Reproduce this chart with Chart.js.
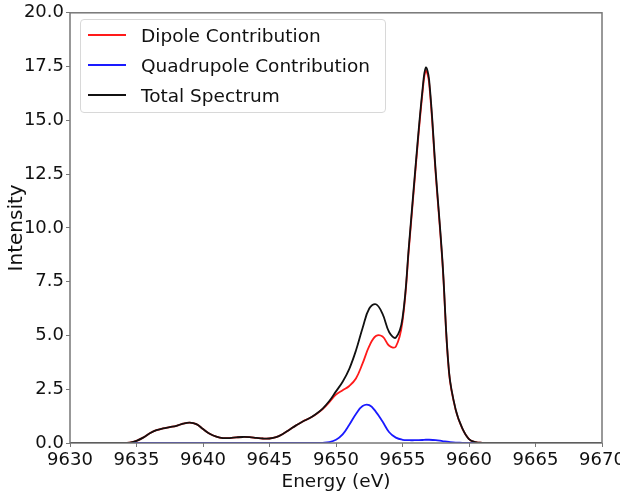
<!DOCTYPE html>
<html>
<head>
<meta charset="utf-8">
<script src="https://cdn.jsdelivr.net/npm/chart.js@4.4.0/dist/chart.umd.min.js"></script>
<style>
  html, body { margin: 0; padding: 0; background: #fff; }
  #wrap { position: relative; width: 620px; height: 495px; overflow: hidden; font-family: "DejaVu Sans", sans-serif; }
  #legend {
    position: absolute; left: 80px; top: 19px; width: 304px; height: 92px;
    border: 1px solid #d8d8d8; border-radius: 4px; background: rgba(255,255,255,0.85);
  }
  .row { position: absolute; left: 0; height: 30px; display: flex; align-items: center; }
  .swatch { width: 38px; height: 2px; margin-left: 7px; margin-right: 15px; }
  .label { font-size: 18.5px; color: #111; white-space: nowrap; }
</style>
</head>
<body>
<div id="wrap">
  <canvas id="spectrum" width="620" height="495"></canvas>
  <div id="legend"></div>
</div>
<script>
const energy = [9630, 9634, 9634.5, 9635, 9635.5, 9636, 9636.5, 9637, 9637.5, 9638, 9638.5, 9639, 9639.5,
  9640, 9640.5, 9641, 9641.5, 9642, 9642.5, 9643, 9643.5, 9644, 9644.5, 9645, 9645.5, 9646, 9646.5,
  9647, 9647.5, 9648, 9648.5, 9649, 9649.5, 9650, 9650.5, 9651, 9651.5, 9652, 9652.5, 9653, 9653.5,
  9654, 9654.5, 9655, 9655.5, 9656, 9656.5, 9656.75, 9657, 9657.5, 9658, 9658.5, 9659, 9659.5,
  9660, 9660.5, 9661, 9662, 9670];

const total = [0, 0, 0.02, 0.1, 0.25, 0.45, 0.6, 0.68, 0.74, 0.8, 0.9, 0.95, 0.88,
  0.65, 0.43, 0.3, 0.23, 0.23, 0.26, 0.28, 0.27, 0.24, 0.21, 0.21, 0.27, 0.42, 0.62,
  0.82, 1.0, 1.15, 1.35, 1.6, 1.95, 2.4, 2.85, 3.45, 4.3, 5.35, 6.25, 6.45, 6.0,
  5.15, 4.9, 5.8, 9.3, 13.0, 16.4, 17.45, 16.9, 12.6, 8.5, 3.3, 1.55, 0.68,
  0.18, 0.04, 0.01, 0, 0];

const dipole = [0, 0, 0.02, 0.1, 0.25, 0.45, 0.6, 0.68, 0.74, 0.8, 0.9, 0.95, 0.88,
  0.65, 0.43, 0.3, 0.23, 0.23, 0.26, 0.28, 0.27, 0.24, 0.21, 0.21, 0.27, 0.42, 0.62,
  0.82, 1.0, 1.15, 1.34, 1.58, 1.9, 2.25, 2.45, 2.65, 3.0, 3.7, 4.5, 4.97, 4.95,
  4.52, 4.48, 5.65, 9.17, 12.87, 16.26, 17.3, 16.75, 12.47, 8.41, 3.25, 1.53, 0.67,
  0.18, 0.04, 0.01, 0, 0];

const quadrupole = [0, 0, 0, 0, 0, 0, 0, 0, 0, 0, 0, 0, 0,
  0, 0, 0, 0, 0, 0, 0, 0, 0, 0, 0, 0, 0, 0,
  0, 0, 0, 0.005, 0.01, 0.04, 0.15, 0.4, 0.85, 1.35, 1.72, 1.76, 1.45, 1.0,
  0.5, 0.25, 0.15, 0.13, 0.13, 0.14, 0.15, 0.15, 0.13, 0.09, 0.05, 0.02, 0.01,
  0, 0, 0, 0, 0];

const xTicks = [9630, 9635, 9640, 9645, 9650, 9655, 9660, 9665, 9670];
const yTicks = [0, 2.5, 5, 7.5, 10, 12.5, 15, 17.5, 20];

const series = [
  { label: 'Dipole Contribution', values: dipole, color: '#ff1a1a', order: 2 },
  { label: 'Quadrupole Contribution', values: quadrupole, color: '#1a1aff', order: 1 },
  { label: 'Total Spectrum', values: total, color: '#111111', order: 0 }
];

// frame around the plot area, like matplotlib spines
const frame = {
  id: 'frame',
  afterDatasetsDraw(chart) {
    const { ctx, chartArea: a } = chart;
    ctx.save();
    ctx.strokeStyle = '#777';
    ctx.lineWidth = 1.5;
    ctx.strokeRect(a.left, a.top, a.width, a.height);
    ctx.restore();
  }
};

const tickFont = { family: 'DejaVu Sans', size: 18 };

new Chart(document.getElementById('spectrum').getContext('2d'), {
  type: 'line',
  data: {
    datasets: series.map(s => ({
      label: s.label,
      data: energy.map((e, i) => ({ x: e, y: s.values[i] })),
      borderColor: s.color,
      borderWidth: 1.8,
      pointRadius: 0,
      tension: 0.4,
      fill: false,
      order: s.order
    }))
  },
  options: {
    responsive: false,
    animation: false,
    layout: { padding: { top: 10, right: 18, left: 0, bottom: 0 } },
    plugins: { legend: { display: false }, tooltip: { enabled: false } },
    scales: {
      x: {
        type: 'linear',
        min: 9630,
        max: 9670,
        afterBuildTicks: scale => { scale.ticks = xTicks.map(v => ({ value: v })); },
        afterFit: scale => {
          scale.height = 52;
          scale.paddingLeft = 0;
          scale.paddingRight = 0;
        },
        border: { display: false },
        grid: { drawOnChartArea: false, drawTicks: true, tickLength: 4, color: '#777' },
        ticks: { font: tickFont, color: '#111', padding: 3, maxRotation: 0, autoSkip: false, callback: v => String(v) },
        title: { display: true, text: 'Energy (eV)', font: { family: 'DejaVu Sans', size: 18.5 }, color: '#111', padding: { top: 0, bottom: 2 } }
      },
      y: {
        min: 0,
        max: 20,
        afterBuildTicks: scale => { scale.ticks = yTicks.map(v => ({ value: v })); },
        afterFit: scale => { scale.width = 70; },
        border: { display: false },
        grid: { drawOnChartArea: false, drawTicks: true, tickLength: 4, color: '#777' },
        ticks: { font: tickFont, color: '#111', padding: 2, callback: v => v.toFixed(1) },
        title: { display: true, text: 'Intensity', font: { family: 'DejaVu Sans', size: 20 }, color: '#111', padding: { top: 5, bottom: 2 } }
      }
    }
  },
  plugins: [frame]
});

// legend box inside the plot, top left
const legend = document.getElementById('legend');
series.forEach((s, i) => {
  const row = document.createElement('div');
  row.className = 'row';
  row.style.top = (i * 30) + 'px';
  row.innerHTML = `<div class="swatch" style="background:${s.color}"></div><div class="label">${s.label}</div>`;
  legend.appendChild(row);
});
</script>
</body>
</html>
